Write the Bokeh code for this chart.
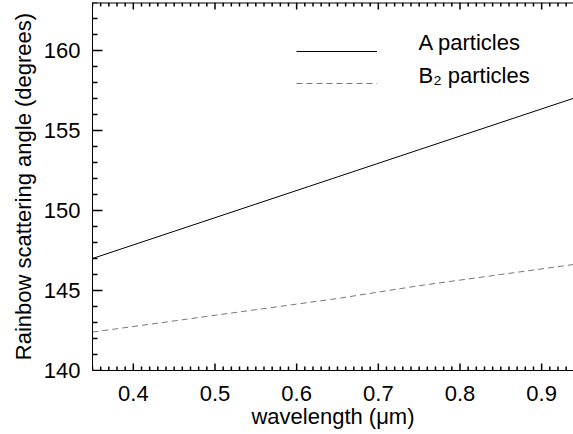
import numpy as np
from bokeh.plotting import figure
from bokeh.models import Range1d, FixedTicker, Legend, LegendItem, Label
from bokeh.embed import file_html
from bokeh.resources import INLINE

# ---- data ----
wavelength = [0.35, 0.45, 0.55, 0.65, 0.75, 0.85, 0.95]
angle_A = [147.0, 148.7, 150.4, 152.1, 153.8, 155.5, 157.2]
angle_B2 = [142.4, 143.1, 143.8, 144.5, 145.3, 146.0, 146.7]
series_labels = ["A particles", "B\u2082 particles"]
x_label = "wavelength (\u03bcm)"
y_label = "Rainbow scattering angle (degrees)"
x_major_ticks = [0.4, 0.5, 0.6, 0.7, 0.8, 0.9]
y_major_ticks = [140, 145, 150, 155, 160]
x_minor_ticks = [round(float(v), 2) for v in np.arange(35, 95) / 100.0
                 if abs(v * 10 - round(v * 10)) > 1e-6]
y_minor_ticks = [v for v in range(140, 164) if v % 5 != 0]
x_start, x_end = 0.35, 0.939
y_start, y_end = 140, 163

FONT = "Liberation Sans"
FS = "22px"
W, H = 573, 434
B_LEFT, B_BOTTOM, B_TOP = 92, 64, 2
frame_w = W - B_LEFT
frame_h = H - B_BOTTOM - B_TOP

p = figure(width=W, height=H, output_backend="svg", toolbar_location=None,
           x_range=Range1d(x_start, x_end), y_range=Range1d(y_start, y_end),
           min_border_left=B_LEFT, min_border_right=0, min_border_top=B_TOP,
           min_border_bottom=B_BOTTOM)
p.outline_line_color = None
p.xgrid.grid_line_color = None
p.ygrid.grid_line_color = None

xa = p.xaxis[0]
xa.ticker = FixedTicker(ticks=x_major_ticks)
xa.axis_label = x_label
ya = p.yaxis[0]
ya.ticker = FixedTicker(ticks=y_major_ticks)
ya.axis_label = y_label

for ax in (xa, ya):
    ax.axis_line_color = "black"
    ax.axis_line_width = 1
    ax.major_tick_in = 0
    ax.major_tick_out = 0
    ax.minor_tick_in = 0
    ax.minor_tick_out = 0
    ax.major_label_text_font = FONT
    ax.major_label_text_color = "black"
    ax.major_label_text_font_size = FS
    ax.axis_label_text_font = FONT
    ax.axis_label_text_font_style = "normal"
    ax.axis_label_text_font_size = FS
    ax.axis_label_text_color = "black"

xa.major_label_standoff = 15
xa.axis_label_standoff = 0
ya.major_label_standoff = 12
ya.axis_label_standoff = 5

# inward tick marks, lengths given in pixels
dxp = (x_end - x_start) / frame_w
dyp = (y_end - y_start) / frame_h
tick_style = dict(line_color="black", line_width=1.5)


def yticks(vals, length):
    n = len(vals)
    p.segment(x0=[x_start] * n, y0=vals, x1=[x_start + length * dxp] * n,
              y1=vals, **tick_style)


def xticks(vals, length):
    n = len(vals)
    p.segment(x0=vals, y0=[y_start] * n, x1=vals,
              y1=[y_start + length * dyp] * n, **tick_style)
    p.segment(x0=vals, y0=[y_end] * n, x1=vals,
              y1=[y_end - length * dyp] * n, **tick_style)


yticks(y_major_ticks, 10)
yticks(y_minor_ticks, 5)
xticks(x_major_ticks, 7)
xticks(x_minor_ticks, 4)
# top frame line
p.segment(x0=[x_start], y0=[y_end], x1=[x_end], y1=[y_end],
          line_color="black", line_width=2)

rA = p.line(wavelength, angle_A, line_color="black", line_width=1)
rB = p.line(wavelength, angle_B2, line_color="#777777", line_width=1,
            line_dash="6 4")

# legend sample lines (glyph only) + text labels
legend = Legend(items=[LegendItem(label="", renderers=[rA]),
                       LegendItem(label="", renderers=[rB])],
                location=(204, 272), glyph_width=81, glyph_height=30,
                label_height=30, spacing=2, label_standoff=0, padding=0,
                margin=0, border_line_color=None, background_fill_alpha=0)
p.add_layout(legend)

text_centers = [41.5, 75.0]
for txt, yc in zip(series_labels, text_centers):
    p.add_layout(Label(x=418 - B_LEFT, y=B_TOP + frame_h - yc,
                       x_units="screen", y_units="screen", text=txt,
                       text_font=FONT, text_font_size=FS, text_color="black",
                       text_baseline="middle", text_align="left"))

open("out.html", "w").write(file_html(p, INLINE))
